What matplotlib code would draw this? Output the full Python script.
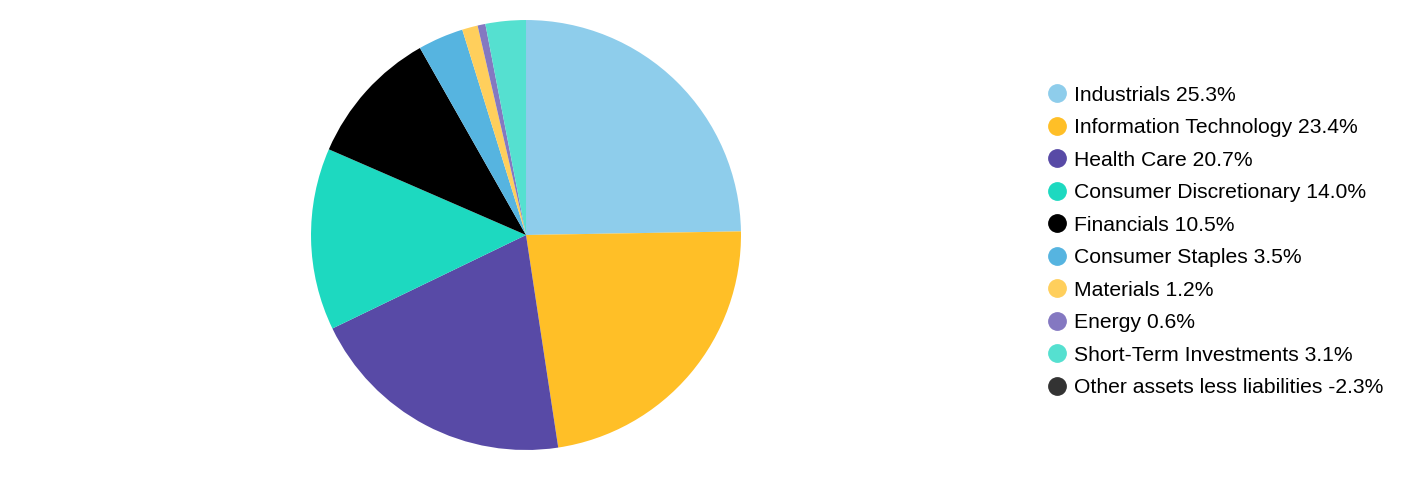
import matplotlib.pyplot as plt
from matplotlib.lines import Line2D

plt.rcParams['font.family'] = ['Liberation Sans', 'DejaVu Sans']

sectors = ['Industrials', 'Information Technology', 'Health Care',
           'Consumer Discretionary', 'Financials', 'Consumer Staples',
           'Materials', 'Energy', 'Short-Term Investments',
           'Other assets less liabilities']
weights = [25.3, 23.4, 20.7, 14.0, 10.5, 3.5, 1.2, 0.6, 3.1, -2.3]
colors = ['#8ECDEB', '#FFBF27', '#584AA6', '#1DD9C0', '#000000',
          '#56B4E0', '#FFCF5C', '#8478C1', '#55E0D0', '#333333']

f = plt.figure(figsize=(14.28, 4.8), dpi=100)
ax = f.add_axes([0.2178, 0.0625, 0.3011, 0.8958])

# negative slice can't be drawn in a pie, only shown in legend
pos = [(w, c) for w, c in zip(weights, colors) if w > 0]
ax.pie([p[0] for p in pos], colors=[p[1] for p in pos], startangle=90,
       counterclock=False, radius=1.0)
ax.set_xlim(-1, 1)
ax.set_ylim(-1, 1)
ax.set_aspect('equal')

handles = [Line2D([], [], marker='o', linestyle='none', markersize=12.5,
                  markerfacecolor=c, markeredgecolor=c) for c in colors]
labels = [f'{s} {w:.1f}%' for s, w in zip(sectors, weights)]
f.legend(handles, labels, loc='upper left', bbox_to_anchor=(0.729, 0.839),
         frameon=False, fontsize=15.2, handlelength=0.75, handletextpad=0.42,
         labelspacing=0.64, borderaxespad=0)

f.savefig('out.png', dpi=100)
